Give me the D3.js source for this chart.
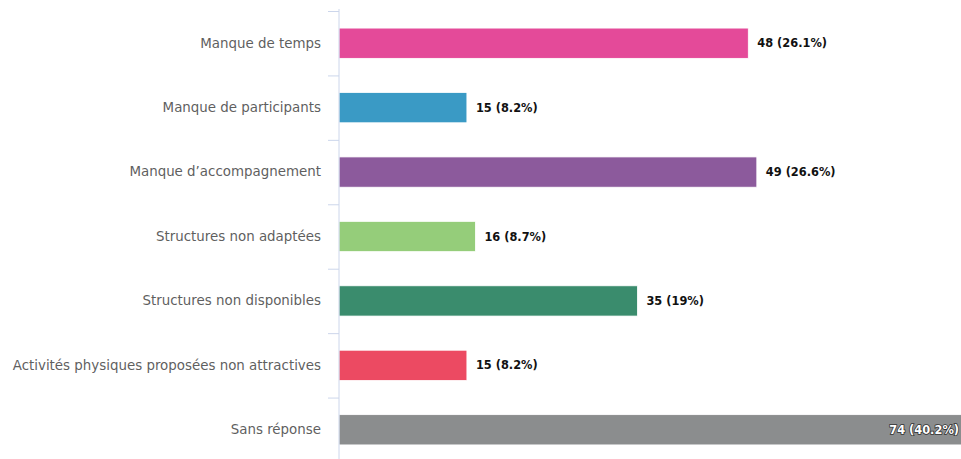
<!DOCTYPE html>
<html>
<head>
<meta charset="utf-8">
<script src="https://cdn.jsdelivr.net/npm/d3@7"></script>
<style>
    body { margin: 0; background: #fff; }
    svg { display: block; }
    .cat text { font-family: "DejaVu Sans", sans-serif; font-size: 13.4px; fill: #5f5f5f; }
    .val { font-family: "DejaVu Sans", sans-serif; font-size: 11.4px; font-weight: bold; }
</style>
</head>
<body>
<div id="view"></div>
<script>
const categories = [
    "Manque de temps",
    "Manque de participants",
    "Manque d\u2019accompagnement",
    "Structures non adaptées",
    "Structures non disponibles",
    "Activités physiques proposées non attractives",
    "Sans réponse"
];
const counts = [48, 15, 49, 16, 35, 15, 74];
const percents = ["26.1%", "8.2%", "26.6%", "8.7%", "19%", "8.2%", "40.2%"];
const colors = ["#e44a99", "#3a9ac5", "#8c5a9c", "#95cd7a", "#3a8c6d", "#ec4a62", "#8b8d8e"];

const width = 961;
const height = 459;
const left = 339;

const svg = d3.select("#view")
    .append("svg")
        .attr("width", width)
        .attr("height", height);

const x = d3.scaleLinear()
    .domain([0, 74])
    .range([left, 970]);

const y = d3.scaleBand()
    .domain(categories)
    .range([11, 462])
    .paddingInner(0.53)
    .paddingOuter(0.265);

const gap = (y.step() - y.bandwidth()) / 2;

// bars
svg.append("g")
    .selectAll("rect")
    .data(categories)
    .join("rect")
        .attr("x", left)
        .attr("y", d => y(d))
        .attr("width", (d, i) => x(counts[i]) - left)
        .attr("height", y.bandwidth())
        .attr("fill", (d, i) => colors[i])
        .attr("stroke", "#fff")
        .attr("stroke-width", 0.8);

// axis line and ticks between categories
svg.append("line")
    .attr("x1", left).attr("x2", left)
    .attr("y1", 9).attr("y2", height)
    .attr("stroke", "#ccd6eb");
svg.append("g")
    .selectAll("line")
    .data(categories)
    .join("line")
        .attr("x1", left - 11).attr("x2", left)
        .attr("y1", d => y(d) - gap + 0.5)
        .attr("y2", d => y(d) - gap + 0.5)
        .attr("stroke", "#ccd6eb");

// category labels
svg.append("g")
    .attr("class", "cat")
    .attr("transform", `translate(${left},0)`)
    .call(d3.axisLeft(y).tickSize(0).tickPadding(18))
    .call(g => g.select(".domain").remove());

// value labels (inside the bar when it runs past the edge)
const inside = i => x(counts[i]) > width;
svg.append("g")
    .selectAll("text")
    .data(categories)
    .join("text")
        .attr("class", "val")
        .attr("x", (d, i) => inside(i) ? width - 2 : x(counts[i]) + 9)
        .attr("y", d => y(d) + y.bandwidth() / 2)
        .attr("dy", "0.36em")
        .attr("text-anchor", (d, i) => inside(i) ? "end" : "start")
        .attr("fill", (d, i) => inside(i) ? "#fff" : "#111")
        .attr("stroke", (d, i) => inside(i) ? "#333" : "none")
        .attr("stroke-width", 1.6)
        .attr("paint-order", "stroke")
        .text((d, i) => `${counts[i]} (${percents[i]})`);
</script>
</body>
</html>
